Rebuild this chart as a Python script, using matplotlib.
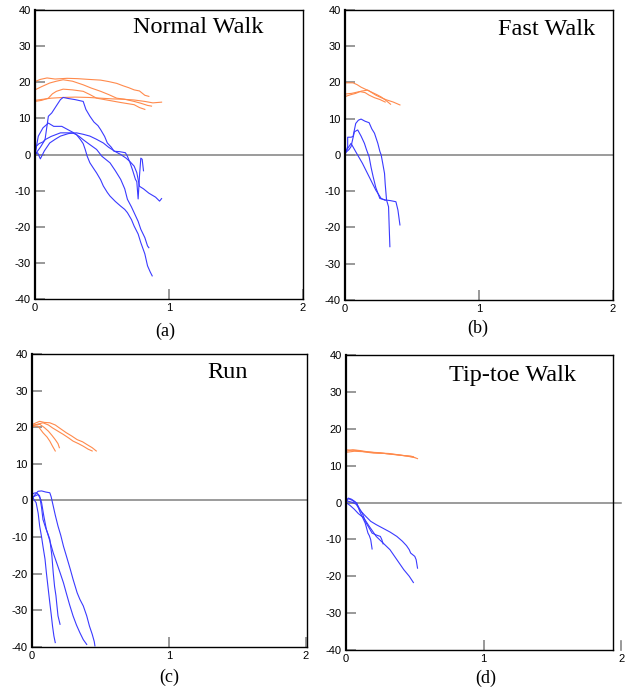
import matplotlib
matplotlib.use("Agg")
import matplotlib.pyplot as plt

plt.rcParams["axes.unicode_minus"] = False

BLUE = "#3a3aff"
ORANGE = "#ff8a4c"

# ── Data ──────────────────────────────────────────────────────────────────────

# (a) Normal Walk
normal_orange = [
    ([0, 0.04, 0.09, 0.15, 0.24, 0.32, 0.40, 0.49, 0.55, 0.61, 0.66, 0.70, 0.74, 0.78, 0.82, 0.85],
     [20.2, 20.8, 21.2, 20.9, 21.1, 21.0, 20.8, 20.6, 20.2, 19.7, 19.0, 18.5, 17.9, 17.6, 16.4, 16.1]),
    ([0, 0.05, 0.11, 0.16, 0.21, 0.28, 0.36, 0.42, 0.49, 0.55, 0.61, 0.67, 0.74, 0.79, 0.84, 0.87],
     [17.9, 18.8, 19.8, 20.3, 20.7, 20.3, 19.3, 18.4, 17.5, 16.6, 15.6, 15.3, 14.7, 14.2, 13.6, 13.4]),
    ([0, 0.05, 0.10, 0.13, 0.16, 0.21, 0.28, 0.36, 0.41, 0.46, 0.55, 0.64, 0.74, 0.78, 0.82],
     [14.7, 15.0, 15.6, 16.8, 17.5, 18.1, 17.9, 17.5, 16.6, 15.6, 15.0, 14.4, 13.8, 13.0, 12.5]),
    ([0, 0.06, 0.12, 0.21, 0.30, 0.40, 0.49, 0.58, 0.66, 0.74, 0.82, 0.88, 0.945],
     [15.0, 15.3, 15.6, 15.8, 15.9, 15.8, 15.6, 15.4, 15.3, 15.1, 14.7, 14.3, 14.5]),
]
normal_blue = [
    ([0, 0.01, 0.03, 0.06, 0.075, 0.09, 0.10, 0.125, 0.16, 0.19, 0.21, 0.25, 0.30, 0.36, 0.38,
      0.41, 0.44, 0.47, 0.49, 0.52, 0.54, 0.57, 0.59, 0.63, 0.675, 0.69, 0.71, 0.73, 0.75, 0.76,
      0.77, 0.78, 0.79, 0.80, 0.81],
     [0, 2.3, 3.0, 3.5, 4.1, 8.0, 10.6, 11.5, 13.5, 15.2, 15.8, 15.5, 15.2, 14.7, 12.5,
      10.6, 9.0, 8.0, 6.9, 5.0, 3.2, 2.0, 0.9, 0.8, 0.5, -0.5, -2.3, -4.5, -6.9, -7.5,
      -12.3, -6.0, -1.0, -1.3, -4.5]),
    ([0, 0.02, 0.04, 0.07, 0.11, 0.15, 0.19, 0.25, 0.31, 0.36, 0.41, 0.46, 0.51, 0.55, 0.60,
      0.64, 0.68, 0.71, 0.74, 0.76, 0.78, 0.81, 0.85, 0.90, 0.93, 0.945],
     [0, 0.5, -1.2, 1.0, 3.2, 4.2, 5.1, 5.8, 6.0, 5.6, 5.1, 4.2, 3.2, 2.0, 0.8,
      0, -1.0, -2.0, -3.2, -5.0, -8.8, -9.5, -10.7, -11.8, -12.9, -12.2]),
    ([0, 0.025, 0.06, 0.10, 0.14, 0.20, 0.25, 0.29, 0.33, 0.36, 0.40, 0.46, 0.50, 0.56, 0.60,
      0.64, 0.67, 0.69, 0.72, 0.74, 0.77, 0.79, 0.82, 0.84, 0.85],
     [0, 5.1, 7.4, 8.7, 7.8, 7.8, 6.8, 6.0, 5.0, 4.1, 3.0, 1.4, -0.5, -2.3, -4.5,
      -6.9, -9.5, -12.4, -14.5, -16.1, -18.5, -20.7, -23.0, -25.3, -25.8]),
    ([0, 0.04, 0.075, 0.12, 0.19, 0.24, 0.28, 0.31, 0.34, 0.36, 0.375, 0.39, 0.41, 0.44, 0.46,
      0.49, 0.51, 0.54, 0.56, 0.60, 0.64, 0.67, 0.69, 0.72, 0.74, 0.77, 0.79, 0.82, 0.84, 0.86, 0.875],
     [0, 2.0, 4.1, 5.0, 6.0, 6.0, 6.0, 5.5, 4.1, 3.0, 1.4, -0.5, -2.3, -4.0, -5.1,
      -7.0, -8.7, -10.5, -11.5, -13.0, -14.3, -15.2, -16.1, -18.0, -19.8, -22.0, -24.4, -27.5,
      -30.8, -32.5, -33.6]),
]

# (b) Fast Walk
fast_orange = [
    ([0, 0.03, 0.06, 0.09, 0.12, 0.16, 0.20, 0.24, 0.27, 0.30, 0.34],
     [19.9, 19.9, 19.9, 19.4, 18.7, 18.0, 17.3, 16.6, 16.0, 15.2, 14.0]),
    ([0, 0.04, 0.08, 0.12, 0.17, 0.20, 0.23, 0.27, 0.31, 0.36, 0.41],
     [16.1, 16.6, 17.0, 17.6, 17.9, 17.2, 16.5, 15.8, 15.2, 14.6, 13.8]),
    ([0, 0.05, 0.11, 0.15, 0.18, 0.22, 0.26, 0.30],
     [16.8, 17.0, 17.5, 17.2, 16.5, 15.8, 15.3, 14.6]),
]
fast_blue = [
    ([0, 0.02, 0.02, 0.045, 0.06, 0.08, 0.10, 0.12, 0.15, 0.18, 0.20, 0.22, 0.245, 0.26, 0.27,
      0.28, 0.295, 0.30, 0.31, 0.325, 0.33, 0.335],
     [0, 2.3, 4.9, 4.9, 5.1, 8.7, 9.6, 9.9, 9.3, 8.9, 7.2, 6.0, 3.2, 1.0, 0,
      -2.0, -5.1, -8.0, -12.4, -14.3, -20.0, -25.3]),
    ([0, 0.03, 0.045, 0.07, 0.095, 0.12, 0.145, 0.16, 0.18, 0.195, 0.21, 0.23, 0.26, 0.30, 0.34,
      0.38, 0.395, 0.41],
     [0.5, 1.5, 2.3, 6.4, 6.9, 5.2, 3.2, 1.5, -0.5, -3.5, -6.0, -9.0, -12.0, -12.4, -12.6,
      -12.9, -15.2, -19.3]),
    ([0, 0.02, 0.045, 0.08, 0.13, 0.18, 0.23, 0.27, 0.30],
     [0.5, 1.8, 3.2, 0.9, -2.3, -6.0, -9.7, -12.0, -12.5]),
]

# (c) Run
run_orange = [
    ([0, 0.03, 0.056, 0.09, 0.13, 0.17, 0.20, 0.25, 0.29, 0.33, 0.37, 0.40, 0.44, 0.47],
     [20.7, 21.2, 21.6, 21.3, 21.2, 20.6, 19.8, 18.5, 17.6, 16.6, 16.0, 15.3, 14.4, 13.5]),
    ([0, 0.04, 0.08, 0.12, 0.15, 0.19, 0.23, 0.27, 0.30, 0.34, 0.375, 0.41, 0.44],
     [20.3, 20.8, 21.2, 20.6, 19.8, 18.9, 18.0, 17.0, 16.2, 15.5, 14.8, 14.0, 13.5]),
    ([0, 0.03, 0.056, 0.09, 0.12, 0.145, 0.17, 0.19, 0.20],
     [20.5, 20.7, 20.8, 19.9, 18.9, 17.8, 16.6, 15.5, 14.4]),
    ([0, 0.02, 0.044, 0.06, 0.08, 0.11, 0.13, 0.15, 0.17],
     [20.1, 20.3, 20.3, 19.5, 18.5, 17.3, 16.2, 14.8, 13.5]),
]
run_blue = [
    ([0, 0.015, 0.03, 0.045, 0.056, 0.07, 0.08, 0.095, 0.105, 0.115, 0.13, 0.14, 0.15, 0.16, 0.17],
     [1.2, 0.2, -0.6, -3.5, -7.0, -10.0, -12.5, -16.0, -19.7, -23.0, -27.9, -31.0, -34.3, -37.0, -38.8]),
    ([0, 0.015, 0.03, 0.045, 0.056, 0.07, 0.08, 0.10, 0.12, 0.13, 0.145, 0.155, 0.165, 0.175,
      0.18, 0.19, 0.205],
     [1.6, 2.0, 2.1, 1.7, 1.2, -2.0, -5.2, -7.5, -9.5, -10.6, -15.0, -19.7, -23.5, -26.0,
      -27.9, -31.5, -33.8]),
    ([0, 0.02, 0.044, 0.06, 0.07, 0.085, 0.105, 0.13, 0.155, 0.18, 0.205, 0.23, 0.25, 0.275,
      0.30, 0.325, 0.35, 0.375, 0.40],
     [0.8, 1.2, 1.6, 0.6, -0.6, -4.0, -7.9, -11.0, -14.3, -17.0, -19.7, -22.5, -25.2, -28.5,
      -31.5, -34.0, -36.1, -38.0, -39.3]),
    ([0, 0.02, 0.044, 0.07, 0.10, 0.13, 0.14, 0.155, 0.17, 0.19, 0.21, 0.23, 0.25, 0.28, 0.30,
      0.33, 0.35, 0.375, 0.40, 0.42, 0.44, 0.455, 0.46],
     [0.5, 1.5, 2.5, 2.6, 2.3, 2.1, 1.0, -1.5, -4.0, -7.0, -9.5, -12.5, -15.0, -18.8, -21.5,
      -25.2, -27.0, -28.8, -31.5, -34.3, -36.5, -38.5, -39.7]),
]

# (d) Tip-toe Walk
tiptoe_orange = [
    ([0, 0.05, 0.10, 0.15, 0.20, 0.25, 0.30, 0.35, 0.40, 0.45, 0.49, 0.52],
     [13.9, 14.3, 14.1, 13.8, 13.6, 13.5, 13.2, 13.0, 12.8, 12.6, 12.3, 11.9]),
    ([0, 0.04, 0.08, 0.13, 0.19, 0.25, 0.31, 0.37, 0.43, 0.47, 0.49],
     [14.3, 14.2, 14.1, 13.8, 13.6, 13.4, 13.3, 13.0, 12.7, 12.6, 12.4]),
    ([0, 0.06, 0.12, 0.20, 0.28, 0.36, 0.44, 0.50],
     [13.6, 13.9, 13.8, 13.4, 13.3, 13.0, 12.6, 12.2]),
]
tiptoe_blue = [
    ([0, 0.017, 0.04, 0.06, 0.08, 0.10, 0.12, 0.14, 0.16, 0.17, 0.18, 0.19],
     [-0.2, 1.2, 0.9, 0.4, -0.2, -2.4, -4.0, -5.6, -8.3, -9.0, -10.1, -12.6]),
    ([0, 0.02, 0.04, 0.07, 0.09, 0.12, 0.14, 0.17, 0.19, 0.22, 0.25, 0.26, 0.27],
     [0.9, 1.0, 0.7, 0.0, -1.1, -3.0, -5.1, -7.0, -8.3, -8.8, -9.2, -10.0, -11.2]),
    ([0, 0.03, 0.05, 0.075, 0.10, 0.14, 0.18, 0.22, 0.27, 0.32, 0.37, 0.41, 0.44, 0.46, 0.47,
      0.50, 0.51, 0.52],
     [0.5, 0.2, 0.0, -0.5, -2.0, -3.6, -5.1, -6.0, -7.0, -8.0, -9.2, -10.5, -11.7, -12.8, -13.7,
      -14.6, -15.5, -17.8]),
    ([0, 0.03, 0.06, 0.09, 0.13, 0.17, 0.22, 0.27, 0.32, 0.37, 0.42, 0.46, 0.49],
     [0.0, -0.8, -1.8, -3.0, -4.2, -6.5, -9.2, -11.0, -12.8, -15.5, -18.2, -20.0, -21.7]),
]

titles = ["Normal Walk", "Fast Walk", "Run", "Tip-toe Walk"]
captions = ["(a)", "(b)", "(c)", "(d)"]
y_ticks = [-40, -30, -20, -10, 0, 10, 20, 30, 40]
x_ticks = [0, 1, 2]

fig = plt.figure(figsize=(6.29, 6.88), dpi=100)
rects = [
    [0.0556, 0.5654, 0.4260, 0.4200],
    [0.5485, 0.5640, 0.4260, 0.4215],
    [0.0509, 0.0596, 0.4370, 0.4260],
    [0.5500, 0.0552, 0.4245, 0.4288],
]
title_pos = [(0.608, 0.938), (0.753, 0.934), (0.713, 0.935), (0.622, 0.929)]
xmax = [2.0, 2.0, 2.01, 1.94]
panels = [(normal_orange, normal_blue), (fast_orange, fast_blue),
          (run_orange, run_blue), (tiptoe_orange, tiptoe_blue)]

for i, (orange, blue) in enumerate(panels):
    ax = fig.add_axes(rects[i])
    ax.set_xlim(0, xmax[i])
    ax.set_ylim(-40, 40)

    zero_end = 2.0 if i == 3 else xmax[i]
    ax.plot([0, zero_end], [0, 0], color="#808080", lw=1.1, clip_on=False, zorder=1)

    for xs, ys in orange:
        ax.plot(xs, ys, color=ORANGE, lw=0.8, zorder=2)
    for xs, ys in blue:
        ax.plot(xs, ys, color=BLUE, lw=0.8, zorder=2)

    ax.set_yticks(y_ticks)
    ax.set_yticklabels([str(v) for v in y_ticks])
    ax.set_xticks([t for t in x_ticks if t <= xmax[i]])
    ax.set_xticklabels([str(t) for t in x_ticks if t <= xmax[i]])
    ax.tick_params(direction="in", length=7, width=1.2, color="#888888",
                   labelsize=8, pad=3, labelfontfamily="Liberation Sans")
    if i == 3:
        # last tick sits just beyond the frame in this panel
        ax.plot([2, 2], [-40, -37.5], color="#888888", lw=1.2, clip_on=False)
        ax.text(2, -41.2, "2", ha="center", va="top", fontsize=8,
                family="Liberation Sans")

    for side in ["top", "right", "bottom"]:
        ax.spines[side].set_linewidth(1.0)
        ax.spines[side].set_color("black")
    ax.spines["left"].set_linewidth(1.6)

    ax.text(title_pos[i][0], title_pos[i][1], titles[i], transform=ax.transAxes,
            ha="center", va="center", fontsize=17.5, family="Liberation Serif")

caption_pos = [(165, 331), (478, 328), (169, 677), (486, 678)]
for (px, py), cap in zip(caption_pos, captions):
    fig.text(px / 629, 1 - py / 688, cap, ha="center", va="center",
             fontsize=13, family="Liberation Serif")

fig.savefig("out.png", dpi=100)
